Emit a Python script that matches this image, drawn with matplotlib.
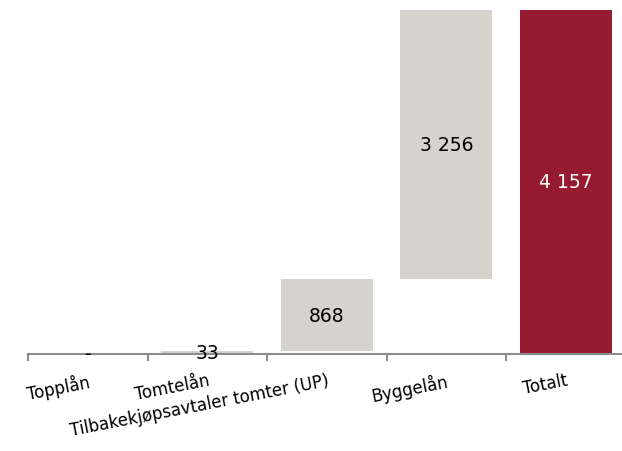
import matplotlib
matplotlib.use("Agg")
import matplotlib.pyplot as plt
import numpy as np

categories = ["Topplån", "Tomtelån", "Tilbakekjøpsavtaler tomter (UP)", "Byggelån", "Totalt"]
steps = [0, 33, 868, 3256]
total = 4157

GREY = "#D6D2CC"
RED = "#961B30"
AXIS = "#8C8C8C"


def fmt(v):
    if v == 0:
        return "-"
    return f"{v:,}".replace(",", " ")


plt.rcParams["font.family"] = ["DejaVu Sans"]

fig = plt.figure(figsize=(6.22, 4.52), dpi=100)
ax = fig.add_axes([28 / 622, 97 / 452, 597.5 / 622, 344 / 452])

x = np.arange(len(categories))
bottoms = np.concatenate([[0], np.cumsum(steps)[:-1]])
heights = list(steps) + [total]
bottoms = list(bottoms) + [0]
colors = [GREY] * len(steps) + [RED]

ax.bar(x, heights, bottom=bottoms, width=0.77, color=colors, edgecolor="none", zorder=2)

# value labels sit on top of the axis line as well
for i, (h, b) in enumerate(zip(heights, bottoms)):
    txt_color = "white" if i == len(heights) - 1 else "black"
    ax.text(x[i], b + h / 2, fmt(h), ha="center", va="center",
            fontsize=13.5, color=txt_color, zorder=6, clip_on=False)

ax.set_xlim(-0.5, len(categories) - 0.5)
ax.set_ylim(0, total)

for side in ["top", "right", "left"]:
    ax.spines[side].set_visible(False)
ax.spines["bottom"].set_color(AXIS)
ax.spines["bottom"].set_linewidth(1.5)
ax.spines["bottom"].set_zorder(4)
ax.set_yticks([])

ax.set_xticks(x)
ax.set_xticklabels(categories, rotation=11, ha="right", rotation_mode="anchor", fontsize=12)
ax.tick_params(axis="x", which="major", length=0, pad=12)
ax.set_xticks(np.arange(len(categories)) - 0.5, minor=True)
ax.tick_params(axis="x", which="minor", length=5, width=1.5, color=AXIS)

fig.savefig("out.png", dpi=100)
